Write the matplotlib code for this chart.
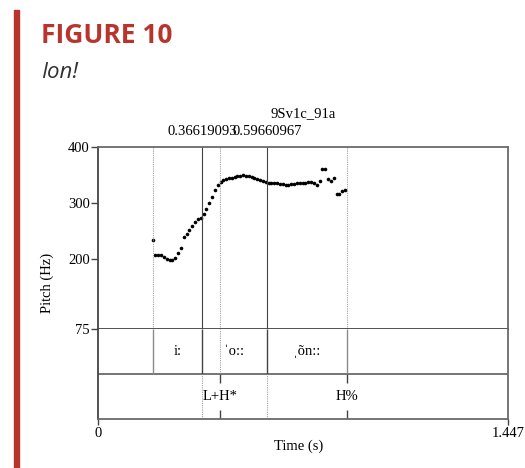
import matplotlib
matplotlib.use("Agg")
import matplotlib.pyplot as plt
import matplotlib.transforms as mtransforms
from matplotlib.patches import Rectangle

# pitch track (s, Hz)
times = [0.192, 0.202, 0.212, 0.222, 0.232, 0.242, 0.252, 0.262, 0.272, 0.282,
         0.292, 0.302, 0.312, 0.322, 0.332, 0.342, 0.352, 0.362, 0.372, 0.382,
         0.392, 0.402, 0.412, 0.422, 0.432, 0.442, 0.452, 0.462, 0.472, 0.482,
         0.492, 0.502, 0.512, 0.522, 0.532, 0.542, 0.552, 0.562, 0.572, 0.582,
         0.592, 0.602, 0.612, 0.622, 0.632, 0.642, 0.652, 0.662, 0.672, 0.682,
         0.692, 0.702, 0.712, 0.722, 0.732, 0.742, 0.752, 0.762, 0.772, 0.782,
         0.792, 0.802, 0.812, 0.822, 0.832, 0.842, 0.852, 0.862, 0.872]
pitch = [233, 207, 207, 206, 203, 200, 197, 197, 201, 211,
         220, 238, 245, 251, 259, 266, 271, 272, 279, 289,
         300, 311, 323, 332, 337, 340, 342, 344, 345, 346,
         347, 348, 349, 348, 347, 346, 344, 342, 340, 338,
         337, 336, 336, 335, 335, 334, 333, 332, 332, 333,
         334, 335, 336, 336, 336, 337, 337, 335, 332, 338,
         360, 360, 342, 339, 344, 316, 315, 321, 322]

t_end = 1.447
title = "9Sv1c_91a"
marks = [0.36619093, 0.59660967]
yticks = [400, 300, 200, 75]

# interval tier
bounds = [0.194, 0.36619093, 0.59660967, 0.878]
seg_labels = ["i:", "\u02c8o::", "\u02cc\u00f5n::"]
# point tier
points = [0.430, 0.878]
point_labels = ["L+H*", "H%"]

serif = ["Liberation Serif", "DejaVu Serif"]
plt.rcParams["font.family"] = serif
fs = 10.5
dark = "#444444"
grey = "#8a8a8a"
red = "#b8352e"

fig = plt.figure(figsize=(5.25, 4.68), dpi=100)

ax = fig.add_axes([0.1872, 0.2976, 0.7798, 0.3889])
axt = fig.add_axes([0.1872, 0.1047, 0.7798, 0.1929])

ax.plot(times, pitch, "o", color="black", ms=2.6, mec="none")
ax.set_xlim(0, t_end)
ax.set_ylim(75, 400)
ax.set_yticks(yticks)
ax.set_yticklabels([str(v) for v in yticks], fontsize=fs)
ax.set_xticks([])
ax.tick_params(axis="y", direction="out", length=5, width=1, color=dark, pad=1)

axt.set_xlim(0, t_end)
axt.set_ylim(0, 2)
axt.set_yticks([])
axt.set_xticks([0, t_end])
axt.set_xticklabels(["", ""])
axt.tick_params(axis="x", direction="out", length=4, width=1, color=dark)

for a in (ax, axt):
    for s in a.spines.values():
        s.set_color("#6a6a6a")
        s.set_linewidth(1.3)
    a.spines["left"].set_color(dark)
ax.spines["bottom"].set_color(dark)
axt.spines["top"].set_visible(False)

# vertical guides in pitch panel
for b in [bounds[0], points[0], bounds[3]]:
    ax.axvline(b, color="#a0a0a0", lw=0.8, ls=(0, (1, 1)))
for m in marks:
    ax.axvline(m, color=dark, lw=0.8)

# tiers
axt.axhline(1, color="#6a6a6a", lw=1.3)
axt.vlines([bounds[0]], 1, 2, color=grey, lw=1.0)
axt.vlines(bounds[1:3], 1, 2, color=dark, lw=1.0)
axt.vlines([bounds[3]], 1, 2, color=grey, lw=1.0)
axt.vlines([points[0]], 1, 2, color="#a0a0a0", lw=0.8, ls=(0, (1, 1)))
axt.vlines(marks, 0, 1, color="#a0a0a0", lw=0.8, ls=(0, (1, 1)))
for i, lab in enumerate(seg_labels):
    axt.text((bounds[i] + bounds[i + 1]) / 2, 1.5, lab, ha="center", va="center", fontsize=fs)
for p, lab in zip(points, point_labels):
    axt.vlines(p, 0.8, 1, color=dark, lw=1.0)
    axt.vlines(p, 0, 0.2, color=dark, lw=1.0)
    axt.text(p, 0.5, lab, ha="center", va="center", fontsize=fs)

# top labels
trans = mtransforms.blended_transform_factory(ax.transData, fig.transFigure)
for m in marks:
    ax.text(m, 0.72, "%.8f" % m, transform=trans, ha="center", va="center", fontsize=fs)
fig.text(0.5769, 0.757, title, ha="center", va="center", fontsize=fs)

fig.text(0.0895, 0.395, "Pitch (Hz)", rotation=90, ha="center", va="center", fontsize=fs)
fig.text(0.5686, 0.047, "Time (s)", ha="center", va="center", fontsize=fs)
fig.text(0.1872, 0.073, "0", ha="center", va="center", fontsize=fs)
fig.text(0.967, 0.073, "1.447", ha="center", va="center", fontsize=fs)

# heading
fig.patches.append(Rectangle((14 / 525, 0), 5 / 525, 458 / 468, transform=fig.transFigure,
                             color=red, zorder=5))
fig.text(0.078, 0.925, "FIGURE 10", color=red, fontsize=19, fontweight="bold",
         family=["Open Sans", "DejaVu Sans"], ha="left", va="center")
fig.text(0.078, 0.846, "Ion!", color="#333333", fontsize=16, style="italic",
         family=["Open Sans", "DejaVu Sans"], ha="left", va="center")

fig.savefig("out.png", dpi=100)
